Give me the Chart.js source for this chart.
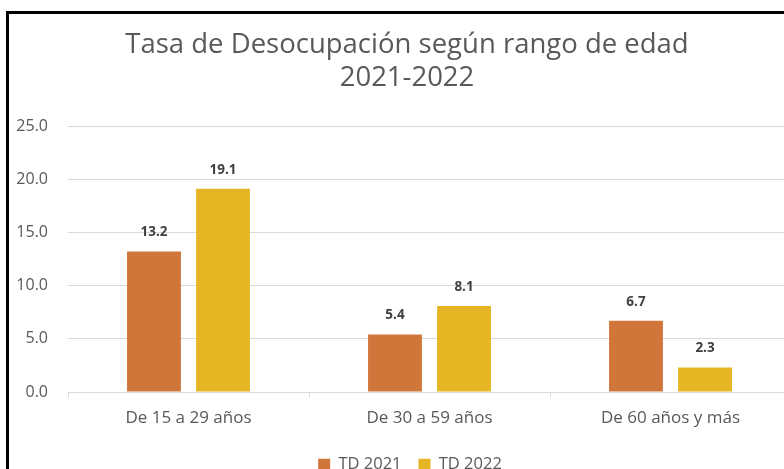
<!DOCTYPE html>
<html>
<head>
<meta charset="utf-8">
<script src="https://cdn.jsdelivr.net/npm/chart.js@4"></script>
<style>
  html, body { margin: 0; padding: 0; background: #fff; overflow: hidden; }
  #wrap { position: absolute; left: 0; top: 0; width: 800px; height: 483px; }
  #frame { position: absolute; left: 6px; top: 11px; width: 800px; height: 480px;
           border-top: 3px solid #000; border-left: 3px solid #000; pointer-events: none; }
</style>
</head>
<body>
<div id="wrap"><canvas id="chart" width="800" height="483"></canvas></div>
<div id="frame"></div>
<script>
const categories = ["De 15 a 29 años", "De 30 a 59 años", "De 60 años y más"];
const seriesNames = ["TD 2021", "TD 2022"];
const td2021 = [13.2, 5.4, 6.7];
const td2022 = [19.1, 8.1, 2.3];
const colors = ["#D1763B", "#E5B524"];

const valueLabels = {
  id: "valueLabels",
  afterDatasetsDraw(chart) {
    const ctx = chart.ctx;
    ctx.save();
    ctx.font = "bold 13.5px 'Open Sans'";
    ctx.fillStyle = "#404040";
    ctx.textAlign = "center";
    ctx.textBaseline = "middle";
    chart.data.datasets.forEach((ds, i) => {
      chart.getDatasetMeta(i).data.forEach((bar, j) => {
        ctx.fillText(ds.data[j].toFixed(1), bar.x, bar.y - 19);
      });
    });
    ctx.restore();
  },
};

// the original is cropped on the right, so title and legend sit a bit right of centre
const shiftBlocks = {
  id: "shiftBlocks",
  afterLayout(chart) {
    chart.titleBlock.left += 10;
    chart.titleBlock.right += 10;
    chart.legend.left += 13;
    chart.legend.right += 13;
  },
};

const config = {
  type: "bar",
  data: {
    labels: categories,
    datasets: [
      { label: seriesNames[0], data: td2021, backgroundColor: colors[0] },
      { label: seriesNames[1], data: td2022, backgroundColor: colors[1] },
    ],
  },
  options: {
    responsive: false,
    animation: false,
    categoryPercentage: 0.573,
    barPercentage: 0.78,
    layout: { padding: { left: 3, right: 9, top: 0, bottom: 0 } },
    scales: {
      x: {
        grid: { offset: true, drawOnChartArea: false, tickLength: 5, color: "#D9D9D9" },
        border: { color: "#D9D9D9" },
        ticks: { color: "#595959", font: { family: "'Open Sans'", size: 17 }, padding: 11 },
      },
      y: {
        min: 0,
        max: 25,
        afterFit: (scale) => { scale.width = 65; },
        ticks: {
          stepSize: 5,
          color: "#595959",
          font: { family: "'Open Sans'", size: 16 },
          padding: 20,
          callback: (v) => v.toFixed(1),
        },
        grid: { color: "#D9D9D9", drawTicks: false },
        border: { display: false },
      },
    },
    plugins: {
      title: {
        display: true,
        text: ["Tasa de Desocupación según rango de edad", "2021-2022"],
        color: "#595959",
        font: { family: "'Open Sans'", size: 27.5, weight: "normal", lineHeight: 1.2 },
        padding: { top: 29, bottom: 31 },
      },
      legend: {
        position: "bottom",
        labels: {
          color: "#595959",
          font: { family: "'Open Sans'", size: 16.5 },
          boxWidth: 12,
          boxHeight: 12,
          padding: 17,
        },
      },
      tooltip: { enabled: false },
    },
  },
  plugins: [valueLabels, shiftBlocks],
};

new Chart(document.getElementById("chart"), config);
</script>
</body>
</html>
